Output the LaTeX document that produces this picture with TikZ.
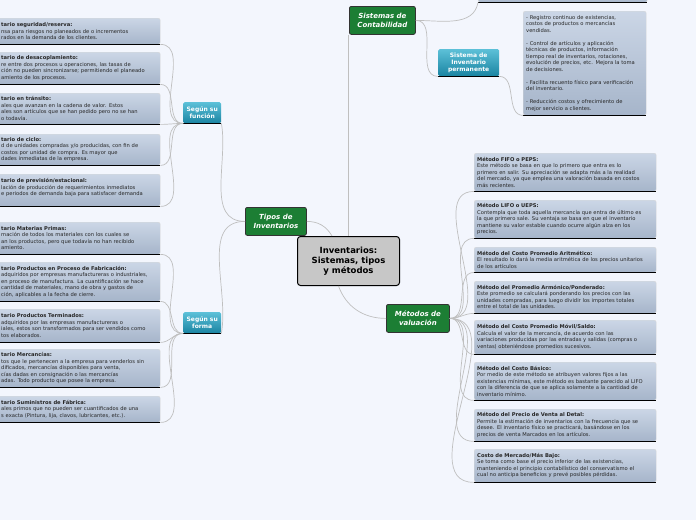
\documentclass[tikz,border=0pt]{standalone}
\usepackage{fontspec}
\setmainfont{DejaVu Sans}
\begin{document}
\begin{tikzpicture}[x=1pt,y=-1pt,
 box/.style={draw=white!70!gray, rounded corners=2, top color=boxtop, bottom color=boxbot, anchor=north west, inner xsep=3, inner ysep=2.5, align=left, font=\fontsize{5.2}{6.5}\selectfont, text=black!85},
 lb/.style={box, minimum width=162, text width=156},
 rb/.style={box, minimum width=182, text width=176},
 bar/.style={line width=1.4pt, black},
 green/.style={draw=black!80, line width=0.8pt, rounded corners=2, fill=grn, text=white, font=\fontsize{7}{8.5}\selectfont\bfseries\itshape, align=center, anchor=north west, inner sep=0},
 teal/.style={rounded corners=1.5, top color=tealtop, bottom color=tealbot, text=white, font=\fontsize{6}{7}\selectfont\bfseries, align=center, anchor=north west, inner sep=0},
 con/.style={draw=black!25, line width=0.7pt}]
\definecolor{boxtop}{HTML}{CBD6E6}
\definecolor{boxbot}{HTML}{A6B5CA}
\definecolor{grn}{HTML}{1C7E34}
\definecolor{tealtop}{HTML}{5CC0D8}
\definecolor{tealbot}{HTML}{1A84A2}
\fill[fill={rgb,255:red,243;green,246;blue,253}] (0,0) rectangle (696,520);
\clip (0,0) rectangle (696,520);

% central
\node[draw=black, line width=1pt, rounded corners=3, fill=black!22, minimum width=102, minimum height=49, anchor=north west, align=center, font=\fontsize{8.5}{10}\selectfont\bfseries] (c) at (297,236) {Inventarios:\\Sistemas, tipos\\y métodos};
\node[green, minimum width=61, minimum height=28] (tipos) at (245,207) {Tipos de\\Inventarios};
\node[green, minimum width=66, minimum height=28] (sis) at (349,6) {Sistemas de\\Contabilidad};
\node[green, minimum width=63, minimum height=28] (met) at (386,304) {Métodos de\\valuación};
\node[teal, minimum width=38, minimum height=21] (fun) at (183,102) {Según su\\función};
\node[teal, minimum width=38, minimum height=21] (for) at (183,312) {Según su\\forma};
\node[teal, minimum width=61, minimum height=27] (perm) at (438,49) {Sistema de\\Inventario\\permanente};
\foreach \n in {fun,for,perm} \draw[bar, line width=1pt] (\n.south west) -- (\n.south east);

% top-right cut box
\node[box, minimum width=169, minimum height=10] (topbox) at (478,-8) {};
\draw[bar] (topbox.south west) -- (topbox.south east);

% permanent text box
\node[box, minimum width=123, minimum height=104, text width=117] (pt) at (523,11) {- Registro continuo de existencias,\\costos de productos o mercancías\\vendidas.\\[6.5pt]- Control de artículos y  aplicación\\técnicas de productos, información\\tiempo real de inventarios, rotaciones,\\evolución de precios, etc. Mejora la toma\\de decisiones.\\[6.5pt]- Facilita recuento físico para verificación\\del inventario.\\[6.5pt]- Reducción costos y ofrecimiento de\\mejor servicio a  clientes.};
\draw[bar] (pt.south west) -- (pt.south east);

% left function boxes
\node[lb, minimum height=26] (f1) at (-2,18) {\textbf{tario seguridad/reserva:}\\nsa para riesgos no planeados de  o incrementos\\rados en la demanda de los clientes.};
\node[lb, minimum height=32] (f2) at (-2,52) {\textbf{tario de desacoplamiento:}\\re entre dos procesos u operaciones, las tasas de\\ción no pueden sincronizarse; permitiendo el planeado\\amiento de los procesos.};
\node[lb, minimum height=31] (f3) at (-2,93) {\textbf{tario en tránsito:}\\ales que avanzan en la cadena de valor. Estos\\ales son artículos que se han pedido pero no se han\\o todavía.};
\node[lb, minimum height=31] (f4) at (-2,134) {\textbf{tario de ciclo:}\\d de unidades compradas y/o producidas, con fin de\\ costos por unidad de compra. Es mayor que\\dades inmediatas de la empresa.};
\node[lb, minimum height=32] (f5) at (-2,174) {\textbf{tario de previsión/estacional:}\\lación de producción de requerimientos inmediatos\\e periodos de demanda baja para satisfacer demanda\\\mbox{}};
% left form boxes
\node[lb, minimum height=32] (g1) at (-2,222) {\textbf{tario Materias Primas:}\\mación de todos los materiales con los cuales se\\an los productos, pero que todavía no han recibido\\amiento.};
\node[lb, minimum height=39] (g2) at (-2,262) {\textbf{tario Productos en Proceso de Fabricación:}\\ adquiridos por empresas manufactureras o industriales,\\en proceso de manufactura. La cuantificación se hace\\cantidad de materiales, mano de obra y gastos de\\ción, aplicables a la fecha de cierre.};
\node[lb, minimum height=33] (g3) at (-2,309) {\textbf{tario Productos Terminados:}\\ adquiridos por las empresas manufactureras o\\iales, estos son transformados para ser vendidos como\\tos elaborados.};
\node[lb, minimum height=38] (g4) at (-2,349) {\textbf{tario Mercancías:}\\tos que le pertenecen a la empresa para venderlos sin\\dificados, mercancías disponibles para venta,\\cías dadas en consignación o las mercancías\\adas. Todo producto que posee la empresa.};
\node[lb, minimum height=26] (g5) at (-2,396) {\textbf{tario Suministros de Fábrica:}\\ales primos que no pueden ser cuantificados de una\\s exacta (Pintura, lija, clavos, lubricantes, etc.).};

% right method boxes
\node[rb, minimum height=38] (m1) at (474,153) {\textbf{Método FIFO o PEPS:}\\Este método se basa en que lo primero que entra es lo\\primero en salir. Su apreciación se adapta más a la realidad\\del mercado, ya que emplea una valoración basada en costos\\más recientes.};
\node[rb, minimum height=38] (m2) at (474,200) {\textbf{Método LIFO o UEPS:}\\Contempla que toda aquella mercancía que entra de último es\\la que primero sale. Su ventaja se basa en que el inventario\\mantiene su valor estable cuando ocurre algún alza en los\\precios.};
\node[rb, minimum height=25] (m3) at (474,247) {\textbf{Método del Costo Promedio Aritmético:}\\El resultado lo dará la media aritmética de los precios unitarios\\de los artículos};
\node[rb, minimum height=32] (m4) at (474,281) {\textbf{Método del Promedio Armónico/Ponderado:}\\Este promedio se calculará ponderando los precios con las\\unidades compradas, para luego dividir los importes totales\\entre el total de las unidades.};
\node[rb, minimum height=34] (m5) at (474,320) {\textbf{Método del Costo Promedio Móvil/Saldo:}\\Calcula el valor de la mercancía, de acuerdo con las\\variaciones producidas por las entradas y salidas (compras o\\ventas) obteniéndose promedios sucesivos.};
\node[rb, minimum height=38] (m6) at (474,362) {\textbf{Método del Costo Básico:}\\Por medio de este método se atribuyen valores fijos a las\\existencias mínimas, este método es bastante parecido al LIFO\\con la diferencia de que se aplica solamente a la cantidad de\\inventario mínimo.};
\node[rb, minimum height=32] (m7) at (474,409) {\textbf{Método del Precio de Venta al Detal:}\\Permite la estimación de inventarios con la frecuencia que se\\desee. El inventario físico se practicará, basándose en los\\precios de venta Marcados en los artículos.};
\node[rb, minimum height=33] (m8) at (474,449) {\textbf{Costo de Mercado/Más Bajo:}\\Se toma como base el precio inferior de las existencias,\\manteniendo el principio contabilístico del conservatismo el\\cual no anticipa beneficios y prevé posibles pérdidas.};
\foreach \n in {f1,f2,f3,f4,f5,g1,g2,g3,g4,g5,m1,m2,m3,m4,m5,m6,m7,m8}
  \draw[bar] (\n.south west) -- (\n.south east);

% connectors
\draw[con] (c.north west) ++(35,0) to[out=120,in=0] (tipos.east);
\draw[con] (sis.south west) ++(-0.5,0) coordinate (s1) -- (s1 |- c.north);
\draw[con] (c.south) ++(-10,0) to[out=-70,in=180] (met.west);
\draw[con] (tipos.west) to[out=180,in=-80] (fun.south east);
\draw[con] (tipos.west) to[out=180,in=80] (for.south east);
\foreach \n in {f1,f2,f3,f4,f5} \draw[con] (fun.south west) to[out=180,in=0] (\n.south east);
\foreach \n in {g1,g2,g3,g4,g5} \draw[con] (for.south west) to[out=180,in=0] (\n.south east);
\foreach \n in {m1,m2,m3,m4,m5,m6,m7,m8} \draw[con] (met.east) to[out=0,in=180] (\n.south west);
\draw[con] (sis.east) to[out=0,in=-100] (topbox.south west);
\draw[con] (sis.east) to[out=0,in=180] (perm.south west);
\draw[con] (perm.south east) to[out=0,in=180] (pt.south west);
\end{tikzpicture}
\end{document}
